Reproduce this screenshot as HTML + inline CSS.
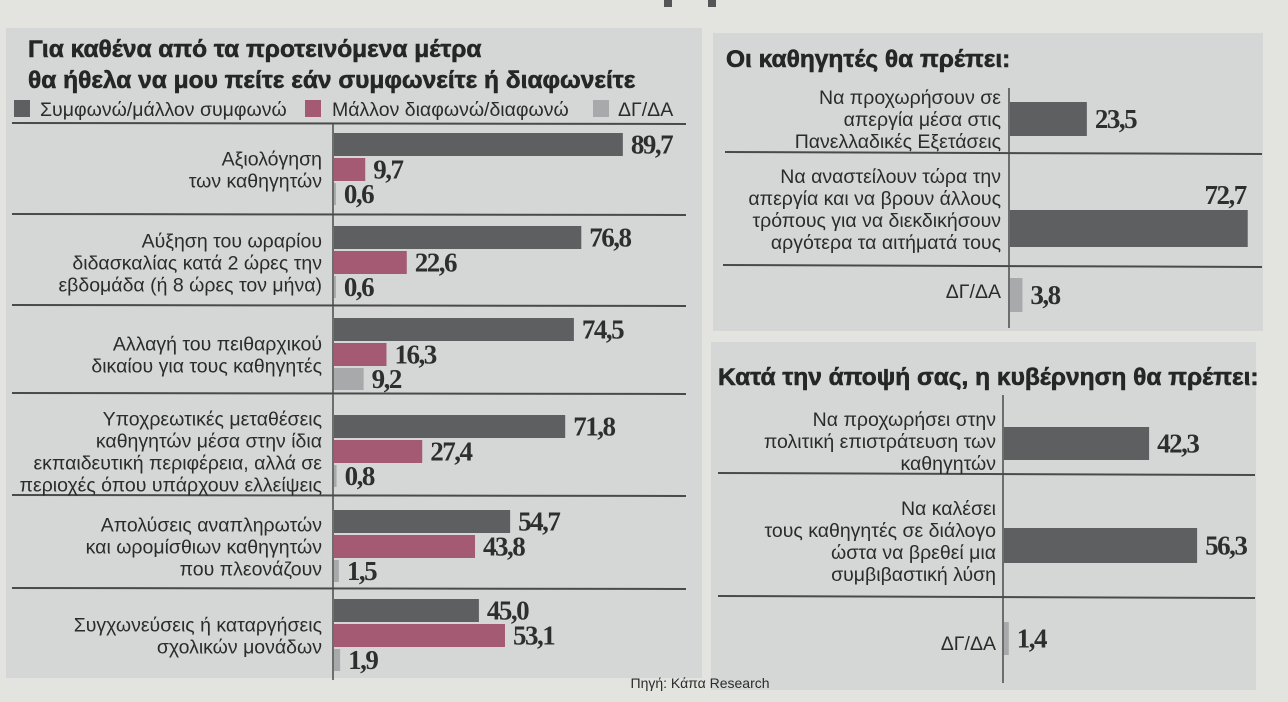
<!DOCTYPE html>
<html><head><meta charset="utf-8"><style>
html,body{margin:0;padding:0;background:#e3e3e0;}
svg{display:block;}
text{font-family:"Liberation Sans",sans-serif;fill:#2b2b2b;}
.t{font-weight:bold;font-size:24.5px;fill:#262626;stroke:#262626;stroke-width:0.6px;}
.l{font-size:19.5px;}
.lg{font-size:19.5px;}
.v{font-family:"Liberation Serif",serif;font-weight:bold;font-size:27px;fill:#2e2e2e;letter-spacing:-1.5px;}
</style></head><body>
<svg id="c" width="1288" height="702" viewBox="0 0 1288 702">
<rect x="0" y="0" width="1288" height="702" fill="#e3e3e0"/>
<rect x="664" y="0" width="8" height="7" fill="#555"/>
<rect x="708" y="0" width="8" height="7" fill="#555"/>
<rect x="6" y="28" width="696" height="650" fill="#d5d7d7"/>
<rect x="713" y="33" width="550" height="298" fill="#d5d7d7"/>
<rect x="711" y="342" width="545" height="348" fill="#d5d7d7"/>
<text class="t" x="28" y="57">Για καθένα από τα προτεινόμενα μέτρα</text>
<text class="t" x="28" y="88">θα ήθελα να μου πείτε εάν συμφωνείτε ή διαφωνείτε</text>
<g>
<rect x="14" y="100" width="16" height="17" fill="#5e5f60"/>
<text class="lg" x="40" y="116">Συμφωνώ/μάλλον συμφωνώ</text>
<rect x="305" y="100" width="16" height="17" fill="#a35a72"/>
<text class="lg" x="332" y="116">Μάλλον διαφωνώ/διαφωνώ</text>
<rect x="593" y="100" width="16" height="17" fill="#a7a9ab"/>
<text class="lg" x="618" y="116">ΔΓ/ΔΑ</text>
</g>
<text class="t" x="726" y="67">Οι καθηγητές θα πρέπει:</text>
<text class="t" x="718" y="385">Κατά την άποψή σας, η κυβέρνηση θα πρέπει:</text>
<text x="700" y="688" text-anchor="middle" style="font-size:14px">Πηγή: Κάπα Research</text>
<g id="g"></g>
</svg>
<script>
// Left chart data
const leftCategories = [
 ["Αξιολόγηση","των καθηγητών"],
 ["Αύξηση του ωραρίου","διδασκαλίας κατά 2 ώρες την","εβδομάδα (ή 8 ώρες τον μήνα)"],
 ["Αλλαγή του πειθαρχικού","δικαίου για τους καθηγητές"],
 ["Υποχρεωτικές μεταθέσεις","καθηγητών μέσα στην ίδια","εκπαιδευτική περιφέρεια, αλλά σε","περιοχές όπου υπάρχουν ελλείψεις"],
 ["Απολύσεις αναπληρωτών","και ωρομίσθιων καθηγητών","που πλεονάζουν"],
 ["Συγχωνεύσεις ή καταργήσεις","σχολικών μονάδων"]
];
const agreeValues = [89.7,76.8,74.5,71.8,54.7,45.0];
const disagreeValues = [9.7,22.6,16.3,27.4,43.8,53.1];
const dkValues = [0.6,0.6,9.2,0.8,1.5,1.9];
// Top-right chart data
const trCategories = [["Να προχωρήσουν σε","απεργία μέσα στις","Πανελλαδικές Εξετάσεις"],["Να αναστείλουν τώρα την","απεργία και να βρουν άλλους","τρόπους για να διεκδικήσουν","αργότερα τα αιτήματά τους"],["ΔΓ/ΔΑ"]];
const trValues = [23.5,72.7,3.8];
// Bottom-right chart data
const brCategories = [["Να προχωρήσει στην","πολιτική επιστράτευση των","καθηγητών"],["Να καλέσει","τους καθηγητές σε διάλογο","ώστα να βρεθεί μια","συμβιβαστική λύση"],["ΔΓ/ΔΑ"]];
const brValues = [42.3,56.3,1.4];

const NS="http://www.w3.org/2000/svg";
const G=document.getElementById('g');
function mk(tag,attrs,parent){const e=document.createElementNS(NS,tag);for(const k in attrs)e.setAttribute(k,attrs[k]);(parent||G).appendChild(e);return e;}
function fmt(v){return v.toFixed(1).replace('.',',');}
function labels(lines,xr,cy,name){
  const lh=22, y0=cy-(lines.length-1)*lh/2;
  lines.forEach((s,i)=>{const t=mk('text',{class:'l',x:xr,y:y0+i*lh+7,'text-anchor':'end'});t.textContent=s;
  
  });
}
function bar(x0,scale,y,h,v,fill,name,valAbove){
  const w=v*scale;
  const r=mk('rect',{x:x0,y:y,width:Math.max(w,1),height:h,fill:fill});
  
  
  const t=valAbove?mk('text',{class:'v',x:x0+w-2,y:y-6,'text-anchor':'end'}):mk('text',{class:'v',x:x0+w+8,y:y+h/2+9});
  t.textContent=fmt(v);
  
  
}
function line(x1,y1,x2,y2,w,name){const l=mk('line',{x1:x1,y1:y1,x2:x2,y2:y2,stroke:'#4a4a4a','stroke-width':w});
  
  }

// Left chart
const LX=334, LS=3.22, groupTops=[133,226,318,415,510,599], BH=23, STEP=25;
const seps=[123,214,305,393,495,588];
seps.forEach((y,i)=>line(12,y,686,y+1,2,'left-separator'));
line(LX-1,123,LX-1,680,1.5,'left-axis');
leftCategories.forEach((c,i)=>{
  const t=groupTops[i];
  labels(c,322,t+STEP+BH/2,'left-category-label');
  bar(LX,LS,t,BH,agreeValues[i],'#5e5f60','bar-agree');
  bar(LX,LS,t+STEP,BH,disagreeValues[i],'#a35a72','bar-disagree');
  bar(LX,LS,t+2*STEP,BH-1,dkValues[i],'#a7a9ab','bar-dk');
});

// Top-right chart
const TX=1010, TS=3.27;
const trBarY=[102,210,278], trBarH=[34,37,34], trLabelCy=[119,209,291];
line(725,152,1262,154,2,'top-right-separator');
line(723,265,1262,267,2,'top-right-separator');
line(TX-1,88,TX-1,328,1.5,'top-right-axis');
trCategories.forEach((c,i)=>{
  labels(c,1001,trLabelCy[i],'top-right-category-label');
  bar(TX,TS,trBarY[i],trBarH[i],trValues[i],i==2?'#a7a9ab':'#5e5f60','bar-teachers',i==1);
});

// Bottom-right chart
const BX=1004, BS=3.43;
const brBarY=[427,528,622], brBarH=[33,35,33], brLabelCy=[441,541,643];
line(718,473,1255,475,2,'bottom-right-separator');
line(718,596,1255,598,2,'bottom-right-separator');
line(BX-1,395,BX-1,683,1.5,'bottom-right-axis');
brCategories.forEach((c,i)=>{
  labels(c,996,brLabelCy[i],'bottom-right-category-label');
  bar(BX,BS,brBarY[i],brBarH[i],brValues[i],i==2?'#a7a9ab':'#5e5f60','bar-government',false);
});
</script>
</body></html>
